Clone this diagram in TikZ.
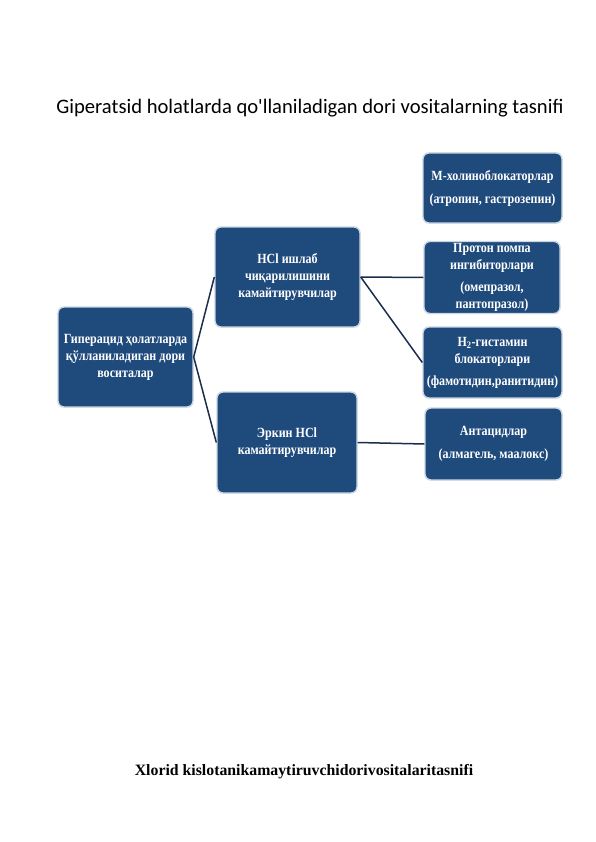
\documentclass[tikz,border=0pt]{standalone}
\usepackage{fontspec}
\setmainfont{Liberation Serif}
\newfontfamily\titlefont{Carlito}
\newfontfamily\boxfont[FakeStretch=0.86]{Liberation Serif}
\definecolor{boxblue}{HTML}{1F4A7C}
\definecolor{boxedge}{HTML}{C9D5E2}
\definecolor{linecol}{HTML}{1C2E4E}
\begin{document}
\begin{tikzpicture}[x=1pt,y=-1pt,
  box/.style={draw=boxedge, line width=1.4pt, fill=boxblue, rounded corners=6pt,
    text=white, font=\boxfont\bfseries\fontsize{14}{17}\selectfont, align=center, inner sep=1pt},
  conn/.style={draw=linecol, line width=1.5pt}]
\useasboundingbox (0,0) rectangle (596,842);
\fill[white] (0,0) rectangle (596,842);
\node[font=\titlefont\fontsize{20.6}{23}\selectfont] (title) at (310,108) {Giperatsid holatlarda qo'llaniladigan dori vositalarning tasnifi};
\node[box, minimum width=135pt, minimum height=100pt] (L) at (125.5,357) {Гиперацид ҳолатларда\\қўлланиладиган дори\\воситалар};
\node[box, minimum width=145pt, minimum height=100pt] (A) at (287.5,277) {HCl ишлаб\\чиқарилишини\\камайтирувчилар};
\node[box, minimum width=140pt, minimum height=101pt] (B) at (287,442.5) {Эркин HCl\\камайтирувчилар};
\node[box, minimum width=139pt, minimum height=70pt] (M) at (492.5,188) {М-холиноблокаторлар\\[6pt](атропин, гастрозепин)};
\node[box, minimum width=136pt, minimum height=72pt] (P) at (492,277.5) {Протон помпа\\ингибиторлари\\[5pt](омепразол,\\пантопразол)};
\node[box, minimum width=139pt, minimum height=71pt] (H) at (492.5,362.5) {H\textsubscript{2}-гистамин\\блокаторлари\\[5pt](фамотидин,ранитидин)};
\node[box, minimum width=137pt, minimum height=72pt] (An) at (493.5,444) {Антацидлар\\[6pt](алмагель, маалокс)};
\draw[conn] (L.east) -- (A.west);
\draw[conn] (L.east) -- (B.west);
\draw[conn] (A.east) -- (P.west);
\draw[conn] (A.east) -- (H.west);
\draw[conn] (B.east) -- (An.west);
\node[font=\bfseries\fontsize{15.8}{18}\selectfont] (foot) at (304,772) {Xlorid kislotanikamaytiruvchidorivositalaritasnifi};
\end{tikzpicture}
\end{document}
